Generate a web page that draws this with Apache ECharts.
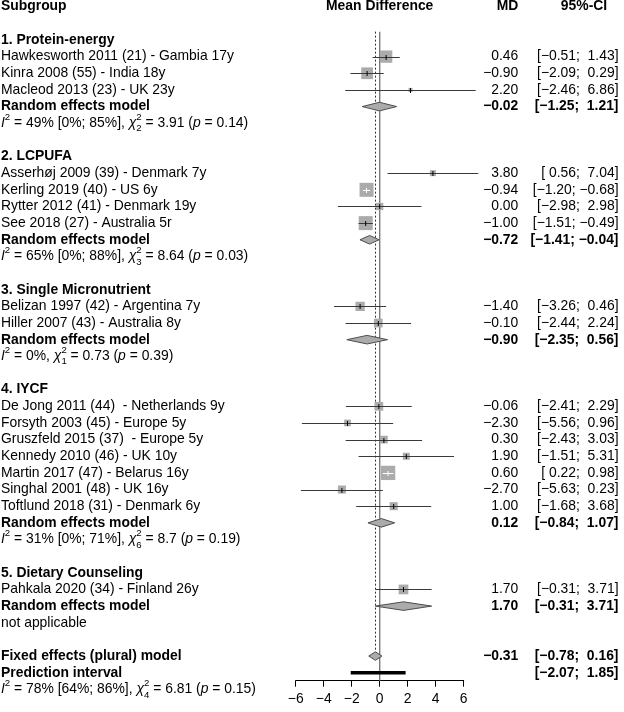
<!DOCTYPE html>
<html><head><meta charset="utf-8">
<script src="https://cdn.jsdelivr.net/npm/echarts@6/dist/echarts.min.js"></script>
<style>html,body{margin:0;padding:0;background:#fff}#c{width:624px;height:712px}</style>
</head><body><div id="c"></div>
<script>
// ---------- data ----------
const headers = ['Subgroup', 'Mean Difference', 'MD', '95%-CI'];
const groupNames = ['1. Protein-energy', '2. LCPUFA', '3. Single Micronutrient', '4. IYCF', '5. Dietary Counseling'];
const studyNames = [
  'Hawkesworth 2011 (21) - Gambia 17y',
  'Kinra 2008 (55) - India 18y',
  'Macleod 2013 (23) - UK 23y',
  'Asserhøj 2009 (39) - Denmark 7y',
  'Kerling 2019 (40) - US 6y',
  'Rytter 2012 (41) - Denmark 19y',
  'See 2018 (27) - Australia 5r',
  'Belizan 1997 (42) - Argentina 7y',
  'Hiller 2007 (43) - Australia 8y',
  'De Jong 2011 (44)  - Netherlands 9y',
  'Forsyth 2003 (45) - Europe 5y',
  'Gruszfeld 2015 (37)  - Europe 5y',
  'Kennedy 2010 (46) - UK 10y',
  'Martin 2017 (47) - Belarus 16y',
  'Singhal 2001 (48) - UK 16y',
  'Toftlund 2018 (31) - Denmark 6y',
  'Pahkala 2020 (34) - Finland 26y'
];
const studyGroup = [0,0,0,1,1,1,1,2,2,3,3,3,3,3,3,3,4];
const studyMD    = [0.46,-0.90,2.20,3.80,-0.94,0.00,-1.00,-1.40,-0.10,-0.06,-2.30,0.30,1.90,0.60,-2.70,1.00,1.70];
const studyLower = [-0.51,-2.09,-2.46,0.56,-1.20,-2.98,-1.51,-3.26,-2.44,-2.41,-5.56,-2.43,-1.51,0.22,-5.63,-1.68,-0.31];
const studyUpper = [1.43,0.29,6.86,7.04,-0.68,2.98,-0.49,0.46,2.24,2.29,0.96,3.03,5.31,0.98,0.23,3.68,3.71];
const studyWeight = [14.8,13.4,1.6,3.5,19.1,5.2,19.1,8.4,7.4,7.4,4.4,5.8,4.8,20.0,6.3,6.3,9.2];
const randomMD    = [-0.02,-0.72,-0.90,0.12,1.70];
const randomLower = [-1.25,-1.41,-2.35,-0.84,-0.31];
const randomUpper = [1.21,-0.04,0.56,1.07,3.71];
const hetI2   = ['49%','65%','0%','31%',null];
const hetI2CI = ['[0%; 85%]','[0%; 88%]',null,'[0%; 71%]',null];
const hetDf   = ['2','3','1','6',null];
const hetQ    = ['3.91','8.64','0.73','8.7',null];
const hetP    = ['0.14','0.03','0.39','0.19',null];
const fixedEst = [-0.31, -0.78, 0.16];
const predInterval = [-2.07, 1.85];
const overallHet = ['78%', '[64%; 86%]', '4', '6.81', '0.15'];
const xTicks = [-6, -4, -2, 0, 2, 4, 6];

// ---------- layout / style ----------
const FF = '"Liberation Sans", Arial, sans-serif';
const FS = 13.9, SFS = 9.6;
const LEFT_X = 1, MD_RIGHT = 518.3, CI_RIGHT = 618.5, CI_HEAD_X = 584;
const SQ_COL = '#ababab', LINE_COL = '#3a3a3a', DIA_FILL = '#ababab', DIA_STROKE = '#4d4d4d';

const cv = document.createElement('canvas').getContext('2d');
function tw(t, fs, bold, it) {
  cv.font = (it ? 'italic ' : '') + (bold ? 'bold ' : '') + fs + 'px ' + FF;
  return cv.measureText(t).width;
}
const fmt = v => (v < 0 ? '\u2212' : '') + Math.abs(v).toFixed(2);
const pad = v => (v < 0 ? '' : ' ') + fmt(v);
const fmtCI = (l, u) => '[' + pad(l) + '; ' + pad(u) + ']';

// build table rows
const rows = [];
rows.push({row: 0, type: 'header'});
let r = 2;
groupNames.forEach((g, gi) => {
  rows.push({row: r++, type: 'group', gi});
  studyNames.forEach((s, si) => { if (studyGroup[si] === gi) rows.push({row: r++, type: 'study', si}); });
  rows.push({row: r++, type: 'random', gi});
  rows.push({row: r++, type: 'het', gi});
  r++;
});
rows.push({row: r++, type: 'fixed'});
rows.push({row: r++, type: 'pred'});
rows.push({row: r++, type: 'ohet'});

function hetSegs(i2, ci, df, q, p) {
  return [
    {t: 'I', it: true}, {sup: '2'},
    {t: ' = ' + i2 + (ci ? ' ' + ci : '') + ', '},
    {t: '\u03c7', it: true}, {sup: '2', sub: df},
    {t: ' = ' + q + ' ('}, {t: 'p', it: true}, {t: ' = ' + p + ')'}
  ];
}

function textEl(text, x, y, o) {
  o = o || {};
  return {type: 'text', x: x, y: y + (o.dy || 0), silent: true, style: {
    text: text, fill: '#000', fontSize: o.fs || FS, fontFamily: FF,
    fontWeight: o.bold ? 'bold' : 'normal', fontStyle: o.it ? 'italic' : 'normal',
    align: o.align || 'left', verticalAlign: 'middle'
  }};
}

function renderTable(params, api) {
  const rw = rows[params.dataIndex];
  const y = api.coord([0, rw.row])[1];
  const x0 = api.coord([0, rw.row])[0];
  const els = [];
  const T = (t, x, o) => els.push(textEl(t, x, y, o));
  if (rw.type === 'header') {
    T(headers[0], LEFT_X, {bold: true});
    T(headers[1], x0, {bold: true, align: 'center'});
    T(headers[2], MD_RIGHT, {bold: true, align: 'right'});
    T(headers[3], CI_HEAD_X, {bold: true, align: 'center'});
  } else if (rw.type === 'group') {
    T(groupNames[rw.gi], LEFT_X, {bold: true});
  } else if (rw.type === 'study') {
    const i = rw.si;
    T(studyNames[i], LEFT_X);
    T(fmt(studyMD[i]), MD_RIGHT, {align: 'right'});
    T(fmtCI(studyLower[i], studyUpper[i]), CI_RIGHT, {align: 'right'});
  } else if (rw.type === 'random') {
    const i = rw.gi;
    T('Random effects model', LEFT_X, {bold: true});
    T(fmt(randomMD[i]), MD_RIGHT, {align: 'right', bold: true});
    T(fmtCI(randomLower[i], randomUpper[i]), CI_RIGHT, {align: 'right', bold: true});
  } else if (rw.type === 'het' || rw.type === 'ohet') {
    let segs;
    if (rw.type === 'het') {
      const i = rw.gi;
      if (hetI2[i] == null) { T('not applicable', LEFT_X); return {type: 'group', children: els}; }
      segs = hetSegs(hetI2[i], hetI2CI[i], hetDf[i], hetQ[i], hetP[i]);
    } else {
      segs = hetSegs(overallHet[0], overallHet[1], overallHet[2], overallHet[3], overallHet[4]);
    }
    let x = LEFT_X;
    segs.forEach(s => {
      if (s.t != null) {
        T(s.t, x, {it: s.it});
        x += tw(s.t, FS, false, s.it);
      } else {
        let w = tw(s.sup, SFS);
        T(s.sup, x, {fs: SFS, dy: -6});
        if (s.sub != null) { T(s.sub, x, {fs: SFS, dy: 5.5}); w = Math.max(w, tw(s.sub, SFS)); }
        x += w;
      }
    });
  } else if (rw.type === 'fixed') {
    T('Fixed effects (plural) model', LEFT_X, {bold: true});
    T(fmt(fixedEst[0]), MD_RIGHT, {align: 'right', bold: true});
    T(fmtCI(fixedEst[1], fixedEst[2]), CI_RIGHT, {align: 'right', bold: true});
  } else if (rw.type === 'pred') {
    T('Prediction interval', LEFT_X, {bold: true});
    T(fmtCI(predInterval[0], predInterval[1]), CI_RIGHT, {align: 'right', bold: true});
  }
  return {type: 'group', children: els};
}

// forest-mark data built from the arrays
const studyData = [], diamondData = [];
rows.forEach(rw => {
  if (rw.type === 'study') {
    const i = rw.si;
    studyData.push([studyMD[i], rw.row, studyLower[i], studyUpper[i], studyWeight[i]]);
  } else if (rw.type === 'random') {
    const i = rw.gi;
    diamondData.push([randomMD[i], rw.row, randomLower[i], randomUpper[i]]);
  } else if (rw.type === 'fixed') {
    diamondData.push([fixedEst[0], rw.row, fixedEst[1], fixedEst[2]]);
  }
});
const predRow = rows.find(x => x.type === 'pred').row;
const fixedRow = rows.find(x => x.type === 'fixed').row;
const predData = [[(predInterval[0] + predInterval[1]) / 2, predRow, predInterval[0], predInterval[1]]];
const DIA_H = 4.3;

function renderStudy(params, api) {
  const md = api.value(0), row = api.value(1), lo = api.value(2), up = api.value(3), w = api.value(4);
  const p = api.coord([md, row]), pl = api.coord([lo, row]), pu = api.coord([up, row]);
  const size = 3.2 * Math.sqrt(w);
  const inside = (pu[0] - pl[0]) < size;
  const col = inside ? '#ffffff' : LINE_COL;
  const yy = Math.round(p[1]) + 0.5;
  return {type: 'group', children: [
    {type: 'rect', shape: {x: p[0] - size / 2, y: p[1] - size / 2, width: size, height: size}, style: {fill: SQ_COL}},
    {type: 'line', shape: {x1: pl[0], y1: yy, x2: pu[0], y2: yy}, style: {stroke: col, lineWidth: 1}},
    {type: 'line', shape: {x1: p[0], y1: yy - 2.5, x2: p[0], y2: yy + 2.5}, style: {stroke: inside ? '#fff' : '#000', lineWidth: 1}}
  ]};
}
function renderDiamond(params, api) {
  const md = api.value(0), row = api.value(1), lo = api.value(2), up = api.value(3);
  const p = api.coord([md, row]), pl = api.coord([lo, row]), pu = api.coord([up, row]);
  return {type: 'polygon', shape: {points: [[pl[0], p[1]], [p[0], p[1] - DIA_H], [pu[0], p[1]], [p[0], p[1] + DIA_H]]},
    style: {fill: DIA_FILL, stroke: DIA_STROKE, lineWidth: 1}};
}
function renderPred(params, api) {
  const row = api.value(1), lo = api.value(2), up = api.value(3);
  const pl = api.coord([lo, row]), pu = api.coord([up, row]);
  return {type: 'rect', shape: {x: pl[0], y: pl[1] - 1.8, width: pu[0] - pl[0], height: 3.6}, style: {fill: '#000'}};
}
function renderRef(params, api) {
  const cs = params.coordSys;
  const z = api.coord([0, 1.5]);
  const f = api.coord([fixedEst[0], 1.5]);
  const fEnd = api.coord([fixedEst[0], fixedRow])[1] - DIA_H;
  return {type: 'group', children: [
    {type: 'line', shape: {x1: z[0], y1: z[1], x2: z[0], y2: cs.y + cs.height}, style: {stroke: '#7a7a7a', lineWidth: 1.4}},
    {type: 'line', shape: {x1: Math.round(f[0]) + 0.5, y1: f[1], x2: Math.round(f[0]) + 0.5, y2: fEnd}, style: {stroke: '#333', lineWidth: 1, lineDash: [2, 2]}}
  ]};
}

const chart = echarts.init(document.getElementById('c'), null, {renderer: 'canvas'});
chart.setOption({
  animation: false,
  backgroundColor: '#fff',
  grid: {left: 295.7, right: 160.3, top: 0, height: 680.7},
  xAxis: {
    type: 'value', min: xTicks[0], max: xTicks[xTicks.length - 1], interval: xTicks[1] - xTicks[0],
    position: 'bottom',
    axisLine: {onZero: false, lineStyle: {color: '#000', width: 1}},
    axisTick: {length: 6, lineStyle: {color: '#000'}},
    splitLine: {show: false},
    axisLabel: {color: '#000', fontSize: FS, fontFamily: FF, margin: 11,
      formatter: v => (v < 0 ? '\u2212' : '') + Math.abs(v)}
  },
  yAxis: {type: 'value', inverse: true, min: -0.4, max: 40.48, show: false},
  series: [
    {type: 'custom', clip: false, silent: true, data: [[0, 0]], renderItem: renderRef},
    {type: 'custom', clip: false, silent: true, data: studyData, renderItem: renderStudy},
    {type: 'custom', clip: false, silent: true, data: diamondData, renderItem: renderDiamond},
    {type: 'custom', clip: false, silent: true, data: predData, renderItem: renderPred},
    {type: 'custom', clip: false, silent: true, data: rows.map(x => [0, x.row]), renderItem: renderTable}
  ]
});
</script></body></html>
